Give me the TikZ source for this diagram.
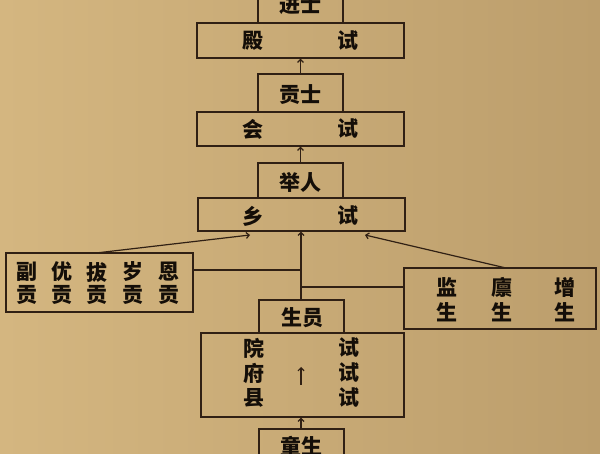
\documentclass[tikz,border=0pt]{standalone}
\usepackage{fontspec}
\newfontfamily\cjk{Noto Sans CJK SC}
\usetikzlibrary{arrows.meta,calc}
\definecolor{bgA}{RGB}{212,182,128}
\definecolor{bgB}{RGB}{188,158,108}
\definecolor{ink}{RGB}{48,32,20}
\definecolor{txtc}{RGB}{20,14,8}
\tikzset{
  box/.style={draw=ink, line width=1.3pt, inner sep=0pt, minimum width=#1},
  txt/.style={text=txtc, inner sep=0pt, font=\cjk\bfseries\fontsize{21}{23}\selectfont},
  arr/.style={draw=ink, line width=1.2pt, -{Straight Barb[length=3pt,width=6pt]}},
  ln/.style={draw=ink, line width=1.2pt}
}
\begin{document}
\begin{tikzpicture}[x=1pt,y=-1pt]
\shade[left color=bgA, right color=bgB] (0,0) rectangle (600,454);
\useasboundingbox (0,0) rectangle (600,454);
% boxes
\node[box=85, minimum height=38] (jinshi) at (300.5,4) {};
\node[box=207, minimum height=35] (dianshi) at (300.5,40.5) {};
\node[box=85, minimum height=38] (gongshi) at (300.5,93) {};
\node[box=207, minimum height=34] (huishi) at (300.5,129) {};
\node[box=85, minimum height=35] (juren) at (300.5,180.5) {};
\node[box=207, minimum height=33] (xiangshi) at (301.5,214.5) {};
\node[box=187, minimum height=59] (left) at (99.5,282.5) {};
\node[box=192, minimum height=61] (right) at (500,298.5) {};
\node[box=85, minimum height=33] (shengyuan) at (301.5,316.5) {};
\node[box=203, minimum height=84] (yuanshi) at (302.5,375) {};
\node[box=85, minimum height=41] (tongsheng) at (301.5,449.5) {};
% texts
\node[txt] (tjinshi) at (300.5,5) {进士};
\node[txt] (tdian) at (253,40.5) {殿};
\node[txt] (tdshi) at (348,40.5) {试};
\node[txt] (tgongshi) at (300.5,95) {贡士};
\node[txt] (thui) at (253,129) {会};
\node[txt] (thshi) at (348,129) {试};
\node[txt] (tjuren) at (300.5,182) {举人};
\node[txt] (txiang) at (253,216) {乡};
\node[txt] (txshi) at (348,216) {试};
\node[txt] (tl1) at (27,272) {副};
\node[txt] (tl2) at (62,272) {优};
\node[txt] (tl3) at (97,272) {拔};
\node[txt] (tl4) at (133,272) {岁};
\node[txt] (tl5) at (169,272) {恩};
\node[txt] (tl6) at (27,295) {贡};
\node[txt] (tl7) at (62,295) {贡};
\node[txt] (tl8) at (97,295) {贡};
\node[txt] (tl9) at (133,295) {贡};
\node[txt] (tl10) at (169,295) {贡};
\node[txt] (tr1) at (447,287.5) {监};
\node[txt] (tr2) at (502,287.5) {廪};
\node[txt] (tr3) at (565,287.5) {增};
\node[txt] (tr4) at (447,312) {生};
\node[txt] (tr5) at (502,312) {生};
\node[txt] (tr6) at (565,312) {生};
\node[txt] (tshengyuan) at (302,318) {生员};
\node[txt] (tyuan) at (254,348) {院};
\node[txt] (tfu) at (254,373) {府};
\node[txt] (txian) at (254,398) {县};
\node[txt] (ts1) at (349,348) {试};
\node[txt] (ts2) at (349,373) {试};
\node[txt] (ts3) at (349,398) {试};
\node[txt] (ttongsheng) at (301.5,446) {童生};
% connectors
\coordinate (j1) at (301,270);
\coordinate (j2) at (301,287);
\coordinate (lt) at (96,253);
\coordinate (la) at (250,235);
\coordinate (rt) at (506,268);
\coordinate (ra) at (365,235);
\coordinate (ia) at (301,385);
\coordinate (ib) at (301,367);
\draw[arr] (gongshi.north) -- (dianshi.south);
\draw[arr] (juren.north) -- (huishi.south);
\draw[arr] (shengyuan.north -| j1) -- (xiangshi.south -| j1);
\draw[arr] (lt) -- (la);
\draw[arr] (rt) -- (ra);
\draw[ln] (left.east |- j1) -- (j1);
\draw[ln] (right.west |- j2) -- (j2);
\draw[arr] (ia) -- (ib);
\draw[arr] (tongsheng.north -| j1) -- (yuanshi.south -| j1);
\end{tikzpicture}
\end{document}
